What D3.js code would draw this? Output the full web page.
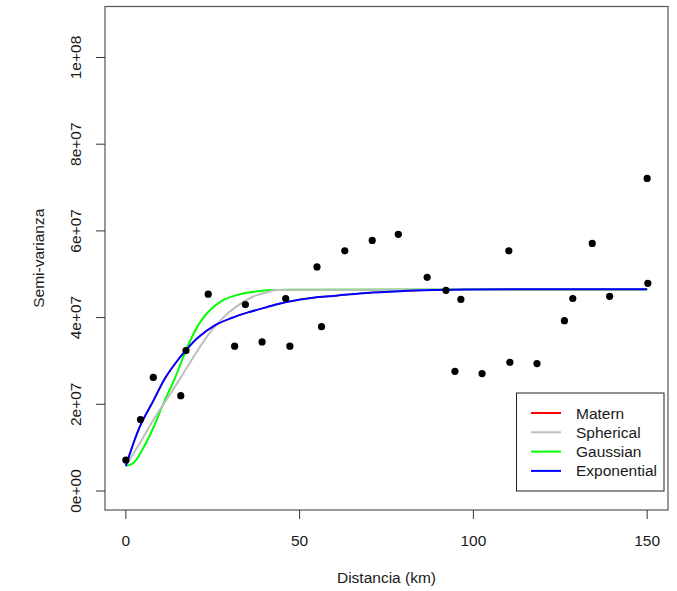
<!DOCTYPE html>
<html>
<head>
<meta charset="utf-8">
<script src="https://cdn.jsdelivr.net/npm/d3@7"></script>
<style>
  html, body { margin: 0; padding: 0; background: #ffffff; }
  svg { display: block; font-family: "Liberation Sans", Arial, sans-serif; }
</style>
</head>
<body>
<svg id="chart" width="677" height="591"></svg>
<script>
// Empirical semivariogram points (distance km, semivariance)
const distances = [0, 4.2, 7.9, 15.8, 17.3, 23.7, 31.3, 34.4, 39.2, 46.0, 47.2, 55.0, 56.3, 63.0, 70.9, 78.4,
  86.7, 92.1, 94.7, 96.4, 102.5, 110.2, 110.5, 118.3, 126.2, 128.6, 134.2, 139.2, 150.0, 150.2];
const semivar = [7.15e6, 16.5e6, 26.2e6, 22.0e6, 32.4e6, 45.4e6, 33.4e6, 43.0e6, 34.4e6, 44.4e6, 33.4e6, 51.7e6,
  37.9e6, 55.4e6, 57.8e6, 59.2e6, 49.3e6, 46.3e6, 27.6e6, 44.2e6, 27.1e6, 55.4e6, 29.7e6, 29.4e6, 39.3e6,
  44.4e6, 57.1e6, 44.9e6, 72.1e6, 47.9e6];

// Fitted model curves
const expX = [0, 4.0, 7.9, 11.2, 14.1, 17.3, 20.8, 25.6, 30.4, 35.2, 40.5, 46.2, 53.9, 59.7, 69.3, 78.9, 88.4, 98.0, 150];
const expY = [5.8e6, 14.8e6, 20.8e6, 25.9e6, 29.3e6, 32.5e6, 35.4e6, 38.2e6, 39.9e6, 41.2e6, 42.4e6, 43.6e6,
  44.6e6, 45.0e6, 45.7e6, 46.1e6, 46.35e6, 46.5e6, 46.55e6];
const maternX = expX.slice();
const maternY = expY.slice();
const sphX = [0, 4.0, 7.9, 12.7, 15.5, 17.9, 20.8, 23.7, 27.5, 31.4, 36.2, 41.0, 43.5, 53.8, 150];
const sphY = [5.8e6, 11.0e6, 16.4e6, 22.3e6, 25.8e6, 28.9e6, 32.6e6, 36.0e6, 39.6e6, 42.3e6, 44.7e6, 45.95e6,
  46.35e6, 46.42e6, 46.46e6];
const gauX = [0, 2.1, 5.0, 7.9, 10.7, 14.1, 15.5, 17.3, 18.9, 20.8, 23.7, 27.5, 32.3, 38.1, 41.9, 50, 150];
const gauY = [5.8e6, 6.4e6, 9.9e6, 14.6e6, 20.0e6, 26.0e6, 28.8e6, 32.5e6, 35.3e6, 38.2e6, 41.3e6, 43.8e6,
  45.3e6, 46.1e6, 46.35e6, 46.42e6, 46.46e6];

const xTicks = [0, 50, 100, 150];
const yTicks = [0, 2e7, 4e7, 6e7, 8e7, 1e8];
const yTickLabels = ["0e+00", "2e+07", "4e+07", "6e+07", "8e+07", "1e+08"];

const legendNames = ["Matern", "Spherical", "Gaussian", "Exponential"];
const legendColors = ["#ff0000", "#bebebe", "#00ff00", "#0000ff"];

const svg = d3.select("#chart");
const L = 105, R = 668, T = 6.5, B = 510;
const x = d3.scaleLinear().domain([-6, 156]).range([L, R]);
const y = d3.scaleLinear().domain([-4.38e6, 111.76e6]).range([B, T]);
const txt = "#1a1a1a";
const fs = 15.5;

// Plot box
svg.append("rect").attr("x", L).attr("y", T).attr("width", R - L).attr("height", B - T)
  .attr("fill", "none").attr("stroke", "#555").attr("stroke-width", 1.2);

// X axis
const xAxis = svg.append("g");
xTicks.forEach(t => {
  xAxis.append("line").attr("x1", x(t)).attr("x2", x(t)).attr("y1", B).attr("y2", B + 9)
    .attr("stroke", "#333").attr("stroke-width", 1);
  xAxis.append("text").attr("x", x(t)).attr("y", 546).attr("text-anchor", "middle")
    .attr("font-size", fs).attr("fill", txt).text(d3.format("d")(t));
});
// Y axis
const yAxis = svg.append("g");
yTicks.forEach((t, i) => {
  yAxis.append("line").attr("x1", L - 9).attr("x2", L).attr("y1", y(t)).attr("y2", y(t))
    .attr("stroke", "#333").attr("stroke-width", 1);
  yAxis.append("text").attr("transform", `translate(81,${y(t)}) rotate(-90)`)
    .attr("text-anchor", "middle").attr("font-size", fs).attr("fill", txt).text(yTickLabels[i]);
});

// Axis titles
svg.append("text").attr("x", (L + R) / 2).attr("y", 583).attr("text-anchor", "middle")
  .attr("font-size", fs).attr("fill", txt).text("Distancia (km)");
svg.append("text").attr("transform", `translate(44,${(T + B) / 2}) rotate(-90)`)
  .attr("text-anchor", "middle").attr("font-size", fs).attr("fill", txt).text("Semi-varianza");

// Curves
const line = d3.line().x(d => x(d[0])).y(d => y(d[1])).curve(d3.curveCatmullRom.alpha(0.5));
const curves = [
  [maternX, maternY, legendColors[0], 1.4],
  [gauX, gauY, legendColors[2], 2],
  [sphX, sphY, legendColors[1], 2],
  [expX, expY, legendColors[3], 2]
];
curves.forEach(([xs, ys, c, w]) => {
  svg.append("path").datum(xs.map((v, i) => [v, ys[i]])).attr("d", line)
    .attr("fill", "none").attr("stroke", c).attr("stroke-width", w);
});

// Points
svg.append("g").selectAll("circle").data(distances.map((d, i) => [d, semivar[i]])).join("circle")
  .attr("cx", d => x(d[0])).attr("cy", d => y(d[1])).attr("r", 3.6).attr("fill", "#000");

// Legend
const lg = svg.append("g");
lg.append("rect").attr("x", 516.5).attr("y", 393).attr("width", 147.5).attr("height", 98)
  .attr("fill", "#fff").attr("stroke", "#222").attr("stroke-width", 1);
legendNames.forEach((n, i) => {
  const yy = 413 + i * 19.3;
  lg.append("line").attr("x1", 531).attr("x2", 561).attr("y1", yy).attr("y2", yy)
    .attr("stroke", legendColors[i]).attr("stroke-width", 2);
  lg.append("text").attr("x", 576).attr("y", yy + 5.5).attr("font-size", fs).attr("fill", txt).text(n);
});
</script>
</body>
</html>
